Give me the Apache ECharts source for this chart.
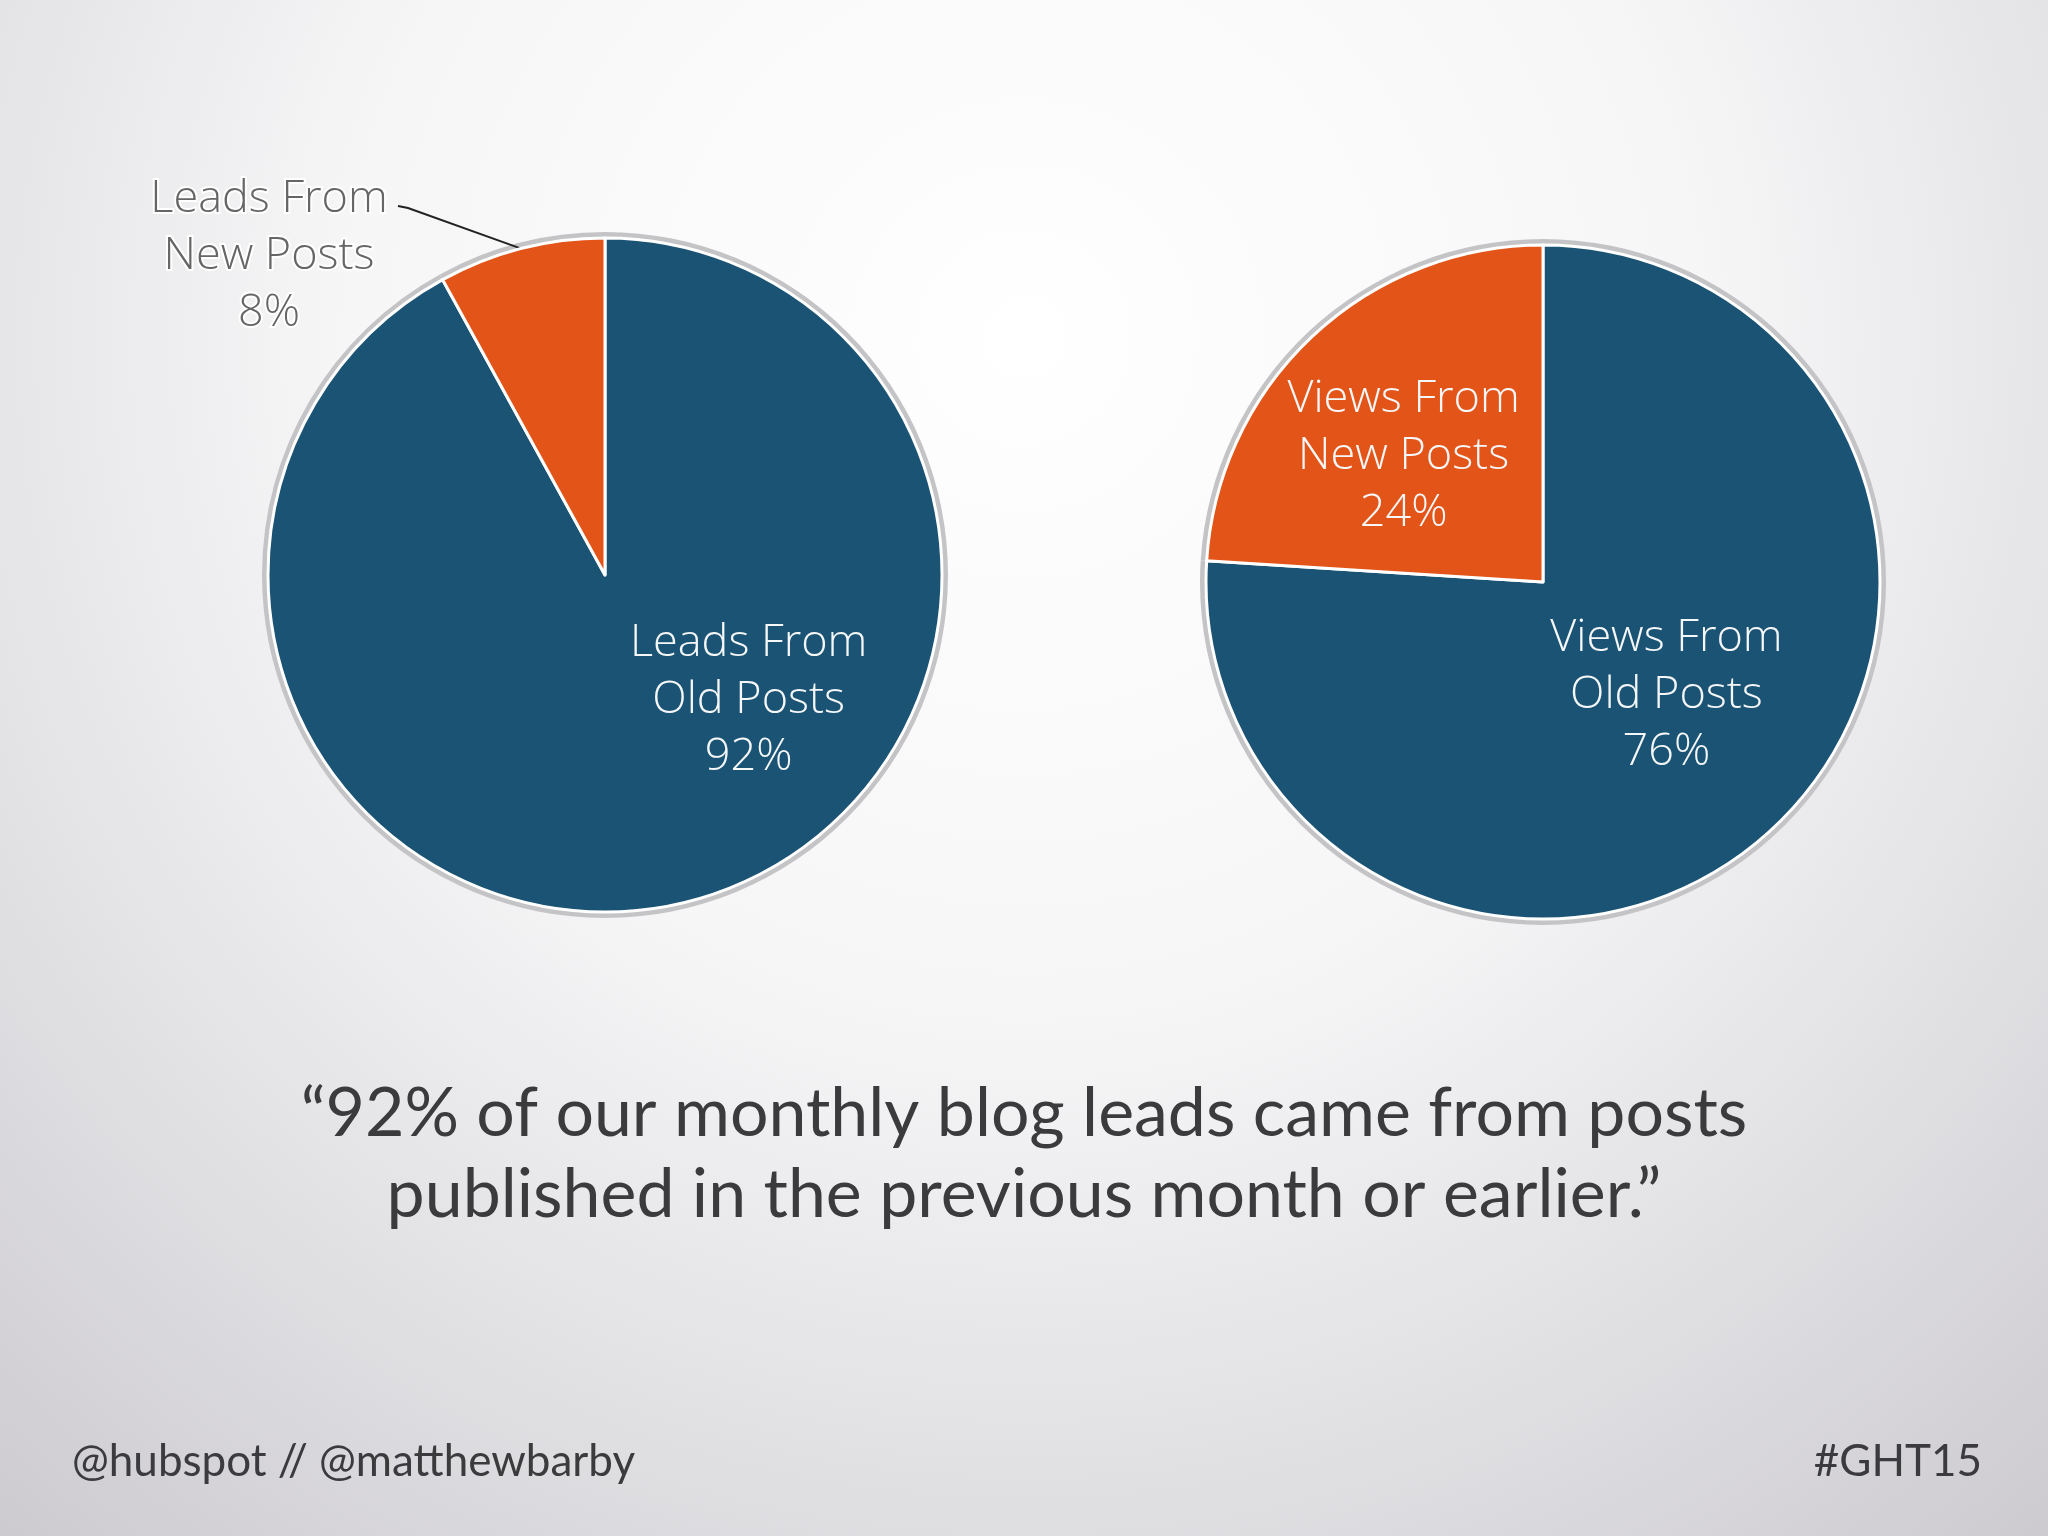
<!DOCTYPE html>
<html>
<head>
<meta charset="utf-8">
<title>Old vs new posts</title>
<script src="https://cdn.jsdelivr.net/npm/echarts@6/dist/echarts.min.js"></script>
<style>
  html, body { margin: 0; padding: 0; }
  #main { width: 2048px; height: 1536px; }
</style>
</head>
<body>
<div id="main"></div>
<script>
// data
var leadNames = ['Leads From\nOld Posts', 'Leads From\nNew Posts'];
var leadValues = [92, 8];
var viewNames = ['Views From\nOld Posts', 'Views From\nNew Posts'];
var viewValues = [76, 24];
var quoteLines = ['\u201c92% of our monthly blog leads came from posts', 'published in the previous month or earlier.\u201d'];
var footLeft = '@hubspot // @matthewbarby';
var footRight = '#GHT15';

var BLUE = '#1a5374';
var ORANGE = '#e35419';
var colors = [BLUE, ORANGE];
var labelFont = '"Open Sans", Lato, sans-serif';

function makeData(names, values) {
    var out = [];
    for (var i = 0; i < names.length; i++) {
        out.push({ name: names[i], value: values[i], itemStyle: { color: colors[i] } });
    }
    return out;
}

// grey rim drawn behind each pie, same slices, just grey
function rim(center, values) {
    return {
        type: 'pie', silent: true, center: center, radius: 343,
        startAngle: 90, clockwise: true, z: 1,
        label: { show: false }, labelLine: { show: false },
        itemStyle: { color: '#c4c4c6', borderWidth: 0 },
        data: values.slice()
    };
}

var leadData = makeData(leadNames, leadValues);
// the small slice has its label outside with a leader line
leadData[1].label = { position: 'outside', color: '#666666', textBorderColor: '#ffffff', textBorderWidth: 4 };
leadData[1].labelLine = { show: true, length: 20, length2: 20, lineStyle: { color: '#222', width: 2 } };

var leadOffsets = [[101, -41], [0, 0]];
var viewOffsets = [[6, -12], [-22, -1]];

var baseLabel = {
    show: true, position: 'inside',
    formatter: '{b}\n{c}%',
    fontFamily: labelFont, fontWeight: 300, fontSize: 45, lineHeight: 57,
    color: '#f5f7f8', align: 'center'
};

var chart = echarts.init(document.getElementById('main'));
var option = {
    backgroundColor: {
        type: 'radial', x: 0.5, y: 0.22, r: 1.05,
        colorStops: [
            { offset: 0, color: '#ffffff' },
            { offset: 0.42, color: '#f6f6f7' },
            { offset: 1, color: '#cbc9ce' }
        ]
    },
    animation: false,
    series: [
        rim([605, 575], leadValues),
        {
            type: 'pie', name: 'leads', center: [605, 575], radius: 337,
            startAngle: 90, clockwise: true, z: 2,
            itemStyle: { borderColor: '#ffffff', borderWidth: 3 },
            label: baseLabel,
            labelLine: { show: false },
            labelLayout: function (p) {
                if (p.dataIndex === 1) {
                    var x = 269, y = 256;
                    return {
                        x: x, y: y, align: 'center', verticalAlign: 'middle',
                        labelLinePoints: [p.labelLinePoints[0], [x + 139, y - 48], [x + 129, y - 50]]
                    };
                }
                var o = leadOffsets[p.dataIndex];
                return { dx: o[0], dy: o[1] };
            },
            data: leadData
        },
        rim([1543, 582], viewValues),
        {
            type: 'pie', name: 'views', center: [1543, 582], radius: 337,
            startAngle: 90, clockwise: true, z: 2,
            itemStyle: { borderColor: '#ffffff', borderWidth: 3 },
            label: baseLabel,
            labelLine: { show: false },
            labelLayout: function (p) {
                var o = viewOffsets[p.dataIndex];
                return { dx: o[0], dy: o[1] };
            },
            data: makeData(viewNames, viewValues)
        }
    ],
    graphic: [
        {
            type: 'text', x: 1024, y: 1155,
            style: {
                text: quoteLines.join('\n'), align: 'center', verticalAlign: 'middle',
                font: '400 68px Lato', lineHeight: 81, fill: '#3b3b3d'
            }
        },
        {
            type: 'text', x: 72, y: 1462,
            style: { text: footLeft, align: 'left', verticalAlign: 'middle', font: '400 44px Lato', fill: '#3b3b3d' }
        },
        {
            type: 'text', x: 1982, y: 1462,
            style: { text: footRight, align: 'right', verticalAlign: 'middle', font: '400 44px Lato', fill: '#3b3b3d' }
        }
    ]
};
chart.setOption(option);
</script>
</body>
</html>
